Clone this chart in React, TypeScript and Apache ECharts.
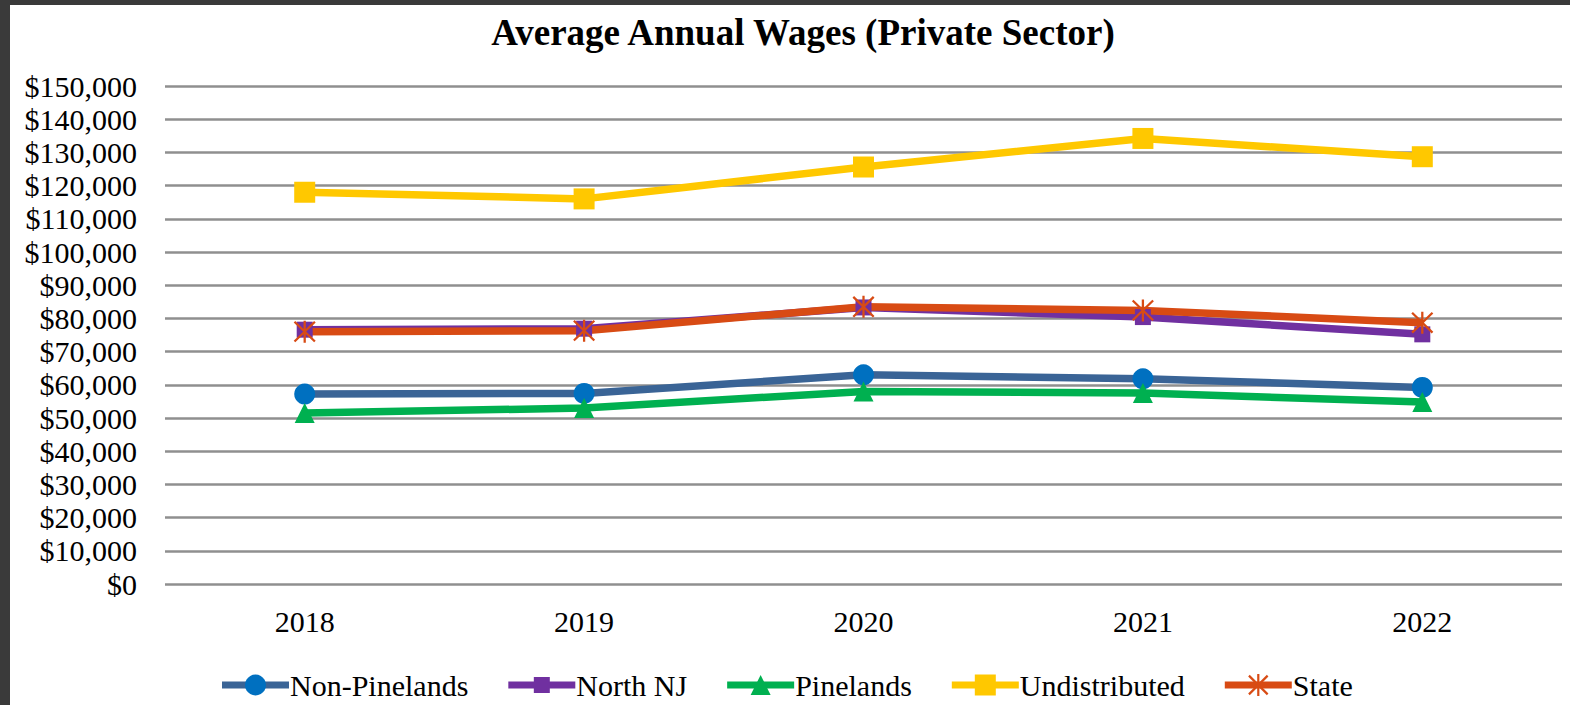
import React, { useEffect, useRef } from "react";
import * as echarts from "echarts";

const years = ["2018", "2019", "2020", "2021", "2022"];
const nonPinelands = [57200, 57400, 63000, 61800, 59200];
const northNJ = [76600, 76900, 83300, 80400, 75200];
const pinelands = [51500, 53000, 58000, 57500, 54800];
const undistributed = [118000, 116000, 125600, 134200, 128700];
const state = [76000, 76300, 83500, 82400, 78700];
const seriesNames = ["Non-Pinelands", "North NJ", "Pinelands", "Undistributed", "State"];

const FONT = '"Liberation Serif", "Times New Roman", serif';
const STAR =
  "path://M9,0L11,0L11,20L9,20Z M0.3,1.7L1.7,0.3L19.7,18.3L18.3,19.7Z M18.3,0.3L19.7,1.7L1.7,19.7L0.3,18.3Z";

type Sty = { line: string; marker: string; symbol: string; size: number };
const styles: Sty[] = [
  { line: "#3a6496", marker: "#0070c0", symbol: "circle", size: 21 },
  { line: "#7030a0", marker: "#7030a0", symbol: "rect", size: 16 },
  { line: "#00b050", marker: "#00b050", symbol: "triangle", size: 20 },
  { line: "#ffc800", marker: "#ffc800", symbol: "rect", size: 21 },
  { line: "#d84b14", marker: "#d84b14", symbol: STAR, size: 22 },
];

function buildLegend() {
  const ctx = document.createElement("canvas").getContext("2d")!;
  ctx.font = `30px ${FONT}`;
  const els: any[] = [];
  const titles: any[] = [];
  let x = 222;
  const cy = 685;
  const iconW = 67;
  seriesNames.forEach((name, i) => {
    const s = styles[i];
    const cx = x + iconW / 2;
    els.push({
      type: "line",
      shape: { x1: x, y1: cy, x2: x + iconW, y2: cy },
      style: { stroke: s.line, lineWidth: 7 },
    });
    const r = s.size / 2;
    if (s.symbol === "circle") {
      els.push({ type: "circle", shape: { cx, cy, r }, style: { fill: s.marker } });
    } else if (s.symbol === "rect") {
      els.push({
        type: "rect",
        shape: { x: cx - r, y: cy - r, width: s.size, height: s.size },
        style: { fill: s.marker },
      });
    } else if (s.symbol === "triangle") {
      els.push({
        type: "polygon",
        shape: { points: [[cx, cy - r], [cx + r, cy + r], [cx - r, cy + r]] },
        style: { fill: s.marker },
      });
    } else {
      const d = r * 0.85;
      [
        [cx, cy - r, cx, cy + r],
        [cx - d, cy - d, cx + d, cy + d],
        [cx + d, cy - d, cx - d, cy + d],
      ].forEach(([x1, y1, x2, y2]) =>
        els.push({ type: "line", shape: { x1, y1, x2, y2 }, style: { stroke: s.marker, lineWidth: 2.2 } })
      );
    }
    const tx = x + iconW + 1;
    titles.push({
      text: name,
      left: tx,
      top: cy - 15,
      padding: 0,
      textStyle: { fontFamily: FONT, fontSize: 30, fontWeight: "normal", color: "#000" },
    });
    x = tx + ctx.measureText(name).width + 40;
  });
  return { els, titles };
}

export default function App() {
  const ref = useRef<HTMLDivElement>(null);
  useEffect(() => {
    if (!ref.current) return;
    const chart = echarts.init(ref.current, null, { renderer: "svg" });
    const data = [nonPinelands, northNJ, pinelands, undistributed, state];
    const lg = buildLegend();
    chart.setOption({
      animation: false,
      backgroundColor: "#ffffff",
      textStyle: { fontFamily: FONT },
      title: [
        {
          text: "Average Annual Wages (Private Sector)",
          left: 798,
          textAlign: "center",
          top: 9,
          textStyle: { fontFamily: FONT, fontSize: 37, fontWeight: "bold", color: "#000" },
        },
        ...lg.titles,
      ],
      graphic: [
        { type: "rect", shape: { x: 0, y: 0, width: 10, height: 705 }, style: { fill: "#3a3a3a" } },
        { type: "rect", shape: { x: 0, y: 0, width: 1570, height: 5 }, style: { fill: "#3a3a3a" } },
        ...lg.els,
      ],
      grid: { left: 165, right: 8, top: 86, bottom: 121 },
      xAxis: {
        type: "category",
        data: years,
        boundaryGap: true,
        axisLine: { show: false },
        axisTick: { show: false },
        axisLabel: { fontFamily: FONT, fontSize: 30, color: "#000", margin: 22 },
      },
      yAxis: {
        type: "value",
        min: 0,
        max: 150000,
        interval: 10000,
        axisLine: { show: false },
        axisTick: { show: false },
        axisLabel: {
          fontFamily: FONT,
          fontSize: 30,
          color: "#000",
          margin: 28,
          formatter: (v: number) => "$" + v.toLocaleString("en-US"),
        },
        splitLine: { lineStyle: { color: "#8f8f8f", width: 2.5 } },
      },
      series: seriesNames.map((name, i) => ({
        name,
        type: "line",
        data: data[i],
        symbol: styles[i].symbol,
        symbolSize: styles[i].size,
        showAllSymbol: true,
        itemStyle: { color: styles[i].marker },
        lineStyle: { color: styles[i].line, width: 7.5 },
        emphasis: { disabled: true },
      })),
    });
    return () => chart.dispose();
  }, []);
  return (
    <div
      ref={ref}
      style={{ position: "fixed", left: 0, top: 0, width: 1570, height: 705 }}
    />
  );
}
